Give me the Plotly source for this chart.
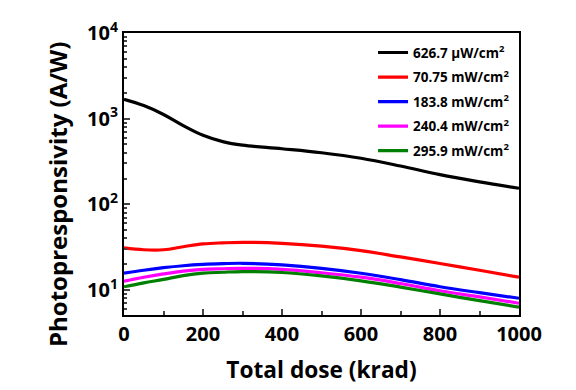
import plotly.graph_objects as go

dose = [0, 50, 100, 150, 200, 250, 300, 400, 500, 600, 700, 800, 900, 1000]

s_black = [1680, 1420, 1120, 830, 640, 540, 490, 445, 400, 345, 280, 222, 183, 154]
s_red = [31.0, 29.5, 29.5, 32.0, 34.5, 35.5, 36.0, 35.0, 32.5, 28.8, 24.3, 20.4, 17.0, 14.1]
s_blue = [15.7, 17.0, 18.2, 19.2, 19.9, 20.3, 20.5, 19.6, 17.9, 15.7, 13.2, 10.9, 9.3, 8.0]
s_magenta = [12.7, 14.1, 15.4, 16.6, 17.4, 17.7, 17.9, 17.4, 15.9, 14.1, 11.9, 9.8, 8.3, 7.0]
s_green = [10.9, 12.1, 13.3, 14.7, 15.7, 16.1, 16.4, 16.0, 14.6, 12.8, 10.8, 9.0, 7.5, 6.3]

labels = ["626.7 μW/cm<sup>2</sup>", "70.75 mW/cm<sup>2</sup>", "183.8 mW/cm<sup>2</sup>",
          "240.4 mW/cm<sup>2</sup>", "295.9 mW/cm<sup>2</sup>"]
colors = ["#000000", "#ff0000", "#0000ff", "#ff00ff", "#008000"]
series = [s_black, s_red, s_blue, s_magenta, s_green]

y_tickvals = [10, 100, 1000, 10000]
y_ticktext = ["10<sup>1</sup>", "10<sup>2</sup>", "10<sup>3</sup>", "10<sup>4</sup>"]
y_minor = [m * 10 ** e for e in range(0, 4) for m in range(2, 10)]
y_minor = [v for v in y_minor if v >= 5.1]
x_tickvals = [0, 200, 400, 600, 800, 1000]

FONT = "Open Sans"

fig = go.Figure()
for i, (name, col, ys) in enumerate(zip(labels, colors, series)):
    fig.add_trace(go.Scatter(x=dose, y=ys, mode="lines", name=name, legendgroup=f"g{i}",
                             line=dict(color=col, width=3.2, shape="spline", smoothing=1.1)))

fig.add_annotation(text="Photopresponsivity (A/W)", textangle=-90, showarrow=False,
                   xref="paper", yref="paper", x=-0.1696, y=0.4255,
                   xanchor="center", yanchor="middle",
                   font=dict(family=FONT, size=24, color="black", weight="bold"))

fig.update_layout(
    width=576, height=390,
    margin=dict(l=124, r=57, t=33, b=75),
    paper_bgcolor="white", plot_bgcolor="white",
    font=dict(family=FONT, color="black"),
    showlegend=True,
    legend=dict(x=0.99, y=0.985, xanchor="right", yanchor="top",
                bgcolor="rgba(0,0,0,0)", borderwidth=0,
                font=dict(family=FONT, size=13.5, color="black", weight="bold"),
                traceorder="grouped", tracegroupgap=4, itemwidth=30),
    xaxis=dict(range=[0, 1000], tickvals=x_tickvals, ticks="inside", ticklen=6,
               tickwidth=2, showline=True, linewidth=2, linecolor="black", mirror=True,
               showgrid=False, zeroline=False,
               tickfont=dict(family=FONT, size=20, color="black", weight="bold"),
               title=dict(text="Total dose (krad)", standoff=16,
                          font=dict(family=FONT, size=22.7, color="black", weight="bold")),
               minor=dict(ticks="inside", ticklen=4, tickwidth=1.5, dtick=100, tick0=0,
                          showgrid=False)),
    yaxis=dict(type="log", range=[0.708, 4], tickvals=y_tickvals, ticktext=y_ticktext,
               ticks="inside", ticklen=6, tickwidth=2, showline=True, linewidth=2,
               linecolor="black", mirror=True, showgrid=False, zeroline=False,
               tickfont=dict(family=FONT, size=20, color="black", weight="bold"),
               minor=dict(ticks="inside", ticklen=3, tickwidth=1.5, tickvals=y_minor,
                          showgrid=False)),
)

fig.write_html("out.html")
